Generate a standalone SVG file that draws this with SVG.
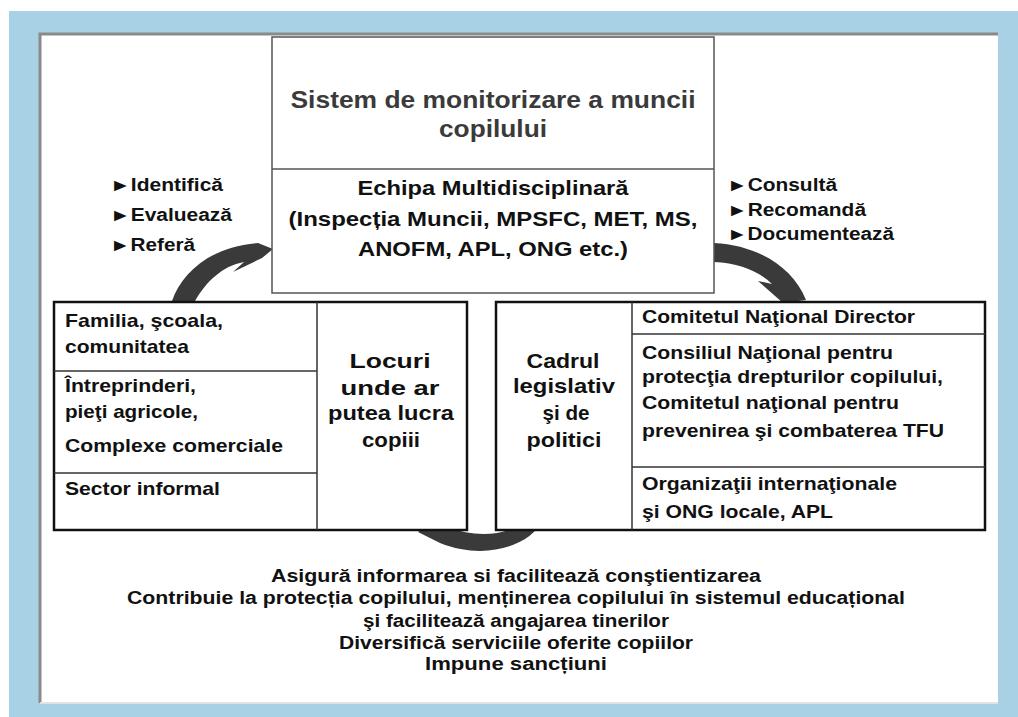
<svg xmlns="http://www.w3.org/2000/svg" width="1018" height="717" viewBox="0 0 1018 717">
<style>
text{font-family:"Liberation Sans",Arial,sans-serif;font-weight:bold;fill:#111}
.c{text-anchor:middle}
.t{font-size:24px;fill:#3a3a3a}
.h{font-size:21px}
.l{font-size:17.5px}
.b{font-size:18.5px}
.m{font-size:21px}
.bt{font-size:17.5px}
.box{fill:#fff;stroke:#111;stroke-width:2.5}
.thin{stroke:#333;stroke-width:1.5;fill:none}
.arr{fill:#3a3a3a}
</style>
<rect x="0" y="0" width="1018" height="717" fill="#fff"/>
<rect x="9" y="11" width="1009" height="706" fill="#a9d1e5"/>
<rect x="40" y="34" width="958" height="669" fill="#fff"/>
<path d="M40,703 V34 H998" fill="none" stroke="#8a8a8a" stroke-width="3"/>
<path d="M40,703 H998" stroke="#e2e2e2" stroke-width="2"/>

<g id="connectors">
<path class="arr" d="M172,301 C182,272 212,246 258,243 L273,249 L262,258 L233,272 L244,262 C222,266 206,282 195,301 Z"/>
<path class="arr" d="M714,243 C755,245 792,265 806,300 L783,303 L758,281 L772,284 C760,272 740,263 714,262 Z"/>
<path class="arr" d="M543,520 C530,546 485,561 440,543 L418,532 L437,518 L448,527 C475,538 508,536 528,520 Z"/>
</g>

<g id="top-box">
<rect x="272" y="37" width="442" height="256" fill="#fff" stroke="#555" stroke-width="1.5"/>
<line x1="272" y1="169" x2="714" y2="169" stroke="#555" stroke-width="1.5"/>
<text class="t c" x="493" y="108" textLength="405" lengthAdjust="spacingAndGlyphs">Sistem de monitorizare a muncii</text>
<text class="t c" x="493" y="137" textLength="108" lengthAdjust="spacingAndGlyphs">copilului</text>
<text class="h c" x="493" y="195" textLength="271" lengthAdjust="spacingAndGlyphs">Echipa Multidisciplinară</text>
<text class="h c" x="493" y="226" textLength="409" lengthAdjust="spacingAndGlyphs">(Inspecția Muncii, MPSFC, MET, MS,</text>
<text class="h c" x="493" y="256" textLength="270" lengthAdjust="spacingAndGlyphs">ANOFM, APL, ONG etc.)</text>
</g>

<g id="left-labels">
<text class="l" x="110" y="191" textLength="113" lengthAdjust="spacingAndGlyphs">►Identifică</text>
<text class="l" x="110" y="221" textLength="122" lengthAdjust="spacingAndGlyphs">►Evaluează</text>
<text class="l" x="110" y="251" textLength="85" lengthAdjust="spacingAndGlyphs">►Referă</text>
</g>

<g id="right-labels">
<text class="l" x="727" y="191" textLength="110" lengthAdjust="spacingAndGlyphs">►Consultă</text>
<text class="l" x="727" y="216" textLength="139" lengthAdjust="spacingAndGlyphs">►Recomandă</text>
<text class="l" x="727" y="240" textLength="167" lengthAdjust="spacingAndGlyphs">►Documentează</text>
</g>

<g id="left-box">
<rect class="box" x="54" y="302" width="413" height="228"/>
<line class="thin" x1="317" y1="302" x2="317" y2="530"/>
<line class="thin" x1="54" y1="371" x2="317" y2="371"/>
<line class="thin" x1="54" y1="473" x2="317" y2="473"/>
<text class="b" x="65" y="327" textLength="158" lengthAdjust="spacingAndGlyphs">Familia, şcoala,</text>
<text class="b" x="65" y="353" textLength="124" lengthAdjust="spacingAndGlyphs">comunitatea</text>
<text class="b" x="65" y="392" textLength="131" lengthAdjust="spacingAndGlyphs">Întreprinderi,</text>
<text class="b" x="65" y="418" textLength="133" lengthAdjust="spacingAndGlyphs">pieţi agricole,</text>
<text class="b" x="65" y="452" textLength="218" lengthAdjust="spacingAndGlyphs">Complexe comerciale</text>
<text class="b" x="65" y="495" textLength="155" lengthAdjust="spacingAndGlyphs">Sector informal</text>
<text class="m c" x="390" y="368" textLength="81" lengthAdjust="spacingAndGlyphs">Locuri</text>
<text class="m c" x="390" y="395" textLength="99" lengthAdjust="spacingAndGlyphs">unde ar</text>
<text class="m c" x="391" y="420" textLength="126" lengthAdjust="spacingAndGlyphs">putea lucra</text>
<text class="m c" x="391" y="447" textLength="58" lengthAdjust="spacingAndGlyphs">copiii</text>
</g>

<g id="right-box">
<rect class="box" x="496" y="302" width="489" height="228"/>
<line class="thin" x1="632" y1="302" x2="632" y2="530"/>
<line class="thin" x1="632" y1="334" x2="985" y2="334"/>
<line class="thin" x1="632" y1="467" x2="985" y2="467"/>
<text class="m c" x="563" y="368" textLength="73" lengthAdjust="spacingAndGlyphs">Cadrul</text>
<text class="m c" x="564" y="393" textLength="102" lengthAdjust="spacingAndGlyphs">legislativ</text>
<text class="m c" x="566" y="420" textLength="47" lengthAdjust="spacingAndGlyphs">şi de</text>
<text class="m c" x="564" y="447" textLength="75" lengthAdjust="spacingAndGlyphs">politici</text>
<text class="b" x="642" y="323" textLength="273" lengthAdjust="spacingAndGlyphs">Comitetul Naţional Director</text>
<text class="b" x="642" y="359" textLength="251" lengthAdjust="spacingAndGlyphs">Consiliul Naţional pentru</text>
<text class="b" x="642" y="383" textLength="301" lengthAdjust="spacingAndGlyphs">protecţia drepturilor copilului,</text>
<text class="b" x="642" y="409" textLength="257" lengthAdjust="spacingAndGlyphs">Comitetul naţional pentru</text>
<text class="b" x="642" y="437" textLength="302" lengthAdjust="spacingAndGlyphs">prevenirea şi combaterea TFU</text>
<text class="b" x="642" y="490" textLength="255" lengthAdjust="spacingAndGlyphs">Organizaţii internaţionale</text>
<text class="b" x="642" y="518" textLength="191" lengthAdjust="spacingAndGlyphs">şi ONG locale, APL</text>
</g>

<g id="bottom-text">
<text class="bt c" x="516" y="582" textLength="490" lengthAdjust="spacingAndGlyphs">Asigură  informarea si facilitează conştientizarea</text>
<text class="bt c" x="516" y="604" textLength="778" lengthAdjust="spacingAndGlyphs">Contribuie la protecția copilului, menținerea copilului în sistemul educațional</text>
<text class="bt c" x="516" y="627" textLength="306" lengthAdjust="spacingAndGlyphs">şi facilitează angajarea tinerilor</text>
<text class="bt c" x="516" y="649" textLength="354" lengthAdjust="spacingAndGlyphs">Diversifică serviciile oferite copiilor</text>
<text class="bt c" x="516" y="670" textLength="182" lengthAdjust="spacingAndGlyphs">Impune sancțiuni</text>
</g>
</svg>
